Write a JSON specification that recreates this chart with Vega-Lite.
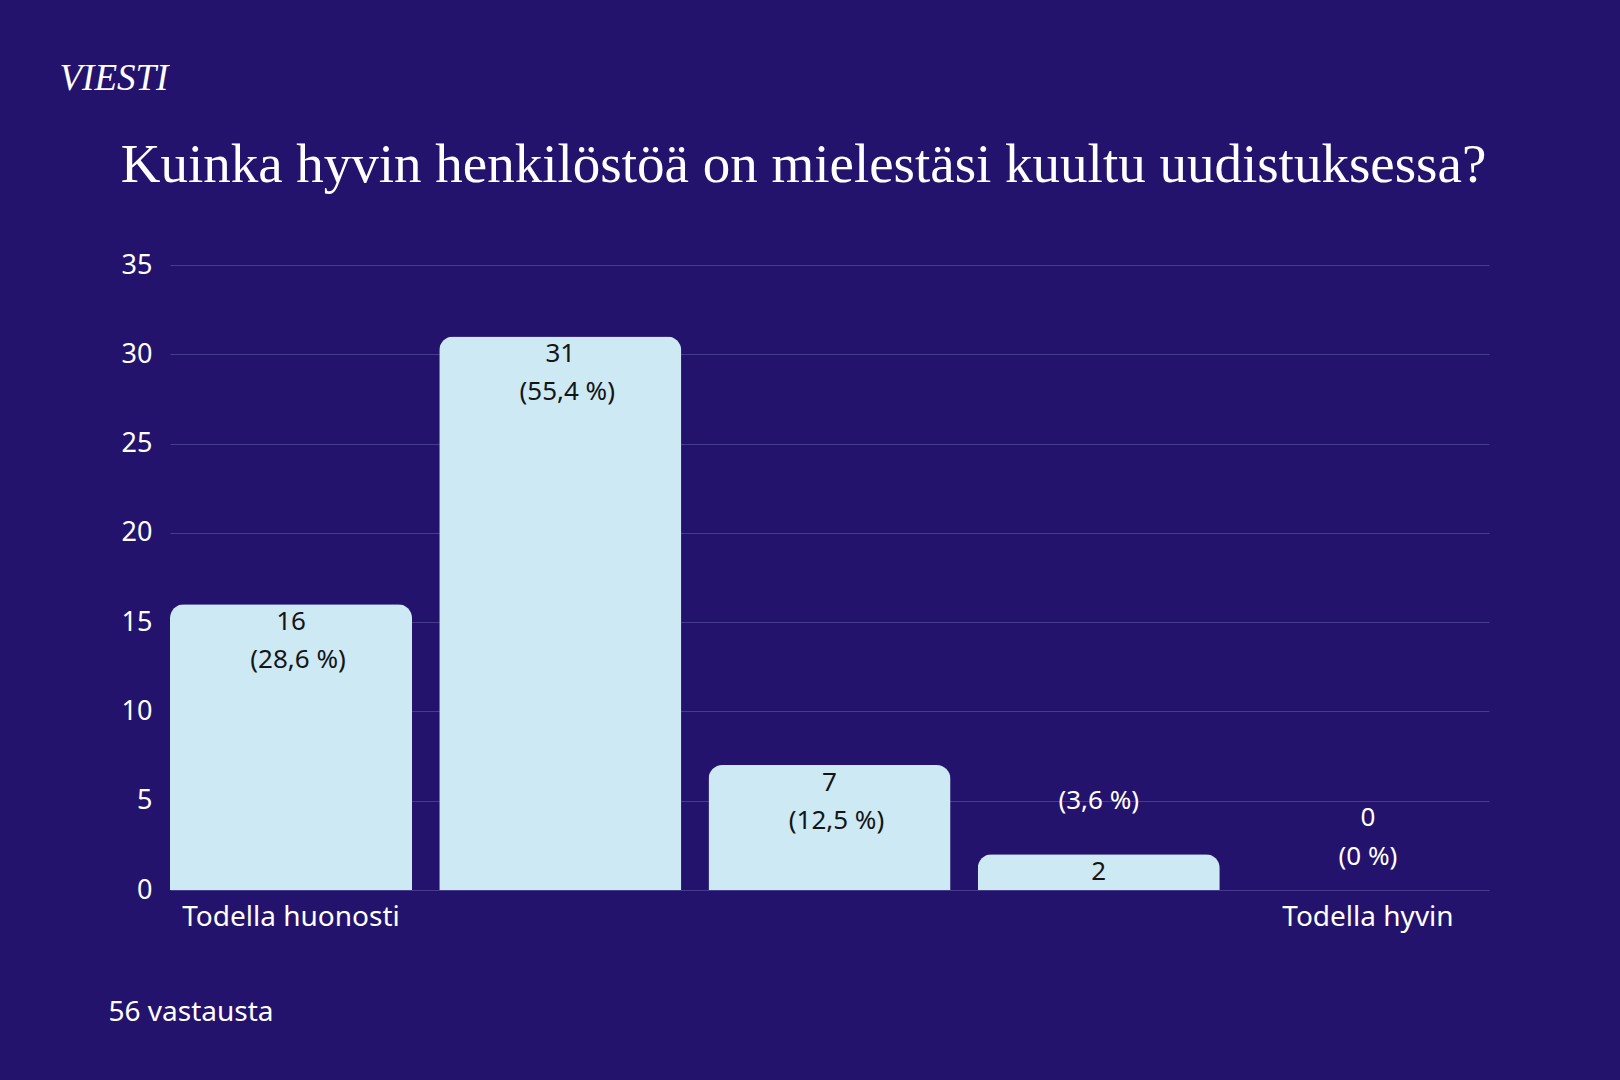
{
  "$schema": "https://vega.github.io/schema/vega-lite/v6.json",
  "autosize": "none",
  "width": 1319,
  "height": 625,
  "padding": {"left": 170, "top": 265, "right": 131, "bottom": 190},
  "background": "#24136d",
  "title": {
    "text": "Kuinka hyvin henkilöstöä on mielestäsi kuultu uudistuksessa?",
    "font": "Liberation Serif",
    "fontSize": 55,
    "fontWeight": "normal",
    "color": "#ffffff",
    "anchor": "middle",
    "dx": -26,
    "dy": 139
  },
  "data": {
    "values": [
      {"vaihtoehto": 1, "maara": 16, "osuus": "(28,6 %)"},
      {"vaihtoehto": 2, "maara": 31, "osuus": "(55,4 %)"},
      {"vaihtoehto": 3, "maara": 7, "osuus": "(12,5 %)"},
      {"vaihtoehto": 4, "maara": 2, "osuus": "(3,6 %)"},
      {"vaihtoehto": 5, "maara": 0, "osuus": "(0 %)"}
    ]
  },
  "encoding": {
    "x": {
      "field": "vaihtoehto",
      "type": "ordinal",
      "scale": {"paddingInner": 0.101, "paddingOuter": 0},
      "axis": {
        "title": "56 vastausta",
        "titleX": -62,
        "titleY": 130,
        "titleAlign": "left",
        "titleBaseline": "alphabetic",
        "titleFont": "Noto Sans",
        "titleFontSize": 28,
        "titleFontWeight": "normal",
        "titleColor": "#ffffff",
        "labelAngle": 0,
        "labelExpr": "datum.value == 1 ? 'Todella huonosti' : datum.value == 5 ? 'Todella hyvin' : ''",
        "labelFont": "Noto Sans",
        "labelFontSize": 28,
        "labelColor": "#ffffff",
        "labelBaseline": "alphabetic",
        "labelPadding": 35,
        "labelLimit": 0,
        "labelOverlap": false,
        "ticks": false,
        "tickSize": 0,
        "domain": false
      }
    },
    "y": {
      "field": "maara",
      "type": "quantitative",
      "scale": {"domain": [0, 35], "nice": false},
      "axis": {
        "title": "VIESTI",
        "titleAngle": 0,
        "titleX": -111,
        "titleY": -176,
        "titleAlign": "left",
        "titleBaseline": "alphabetic",
        "titleFont": "Liberation Serif",
        "titleFontStyle": "italic",
        "titleFontSize": 37,
        "titleFontWeight": "normal",
        "titleColor": "#ffffff",
        "values": [0, 5, 10, 15, 20, 25, 30, 35],
        "labelFont": "Noto Sans",
        "labelFontSize": 27,
        "labelColor": "#ffffff",
        "labelPadding": 18,
        "ticks": false,
        "tickSize": 0,
        "domain": false,
        "grid": true,
        "gridColor": "#463b8c",
        "gridWidth": 1
      }
    }
  },
  "layer": [
    {
      "mark": {"type": "bar", "color": "#cce9f4", "cornerRadiusTopLeft": 14, "cornerRadiusTopRight": 14}
    },
    {
      "transform": [{"filter": "datum.maara >= 2"}],
      "mark": {"type": "text", "font": "Noto Sans", "fontSize": 26, "color": "#151515", "baseline": "middle", "dy": 18},
      "encoding": {"text": {"field": "maara", "type": "quantitative"}}
    },
    {
      "transform": [{"filter": "datum.maara >= 5"}],
      "mark": {"type": "text", "font": "Noto Sans", "fontSize": 26, "color": "#151515", "baseline": "middle", "dy": 56, "dx": 7},
      "encoding": {"text": {"field": "osuus", "type": "nominal"}}
    },
    {
      "transform": [{"filter": "datum.maara > 0 && datum.maara < 5"}],
      "mark": {"type": "text", "font": "Noto Sans", "fontSize": 26, "color": "#ffffff", "baseline": "middle", "dy": -53},
      "encoding": {"text": {"field": "osuus", "type": "nominal"}}
    },
    {
      "transform": [{"filter": "datum.maara == 0"}],
      "mark": {"type": "text", "font": "Noto Sans", "fontSize": 26, "color": "#ffffff", "baseline": "middle", "dy": -72},
      "encoding": {"text": {"field": "maara", "type": "quantitative"}}
    },
    {
      "transform": [{"filter": "datum.maara == 0"}],
      "mark": {"type": "text", "font": "Noto Sans", "fontSize": 26, "color": "#ffffff", "baseline": "middle", "dy": -33},
      "encoding": {"text": {"field": "osuus", "type": "nominal"}}
    }
  ],
  "config": {"view": {"stroke": null}}
}
